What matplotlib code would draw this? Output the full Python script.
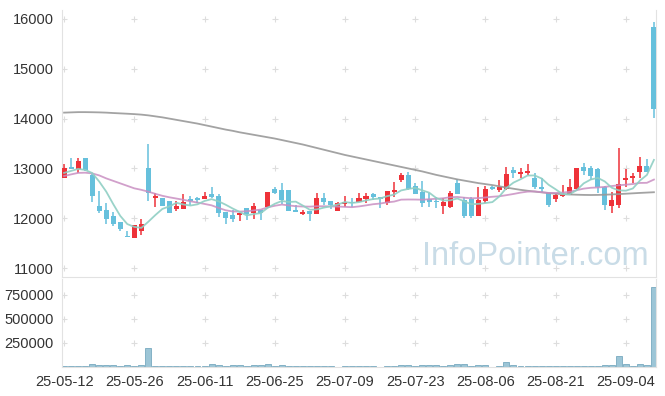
import numpy as np
import matplotlib
matplotlib.use("Agg")
import matplotlib.pyplot as plt

plt.rcParams["font.family"] = ["Liberation Sans", "DejaVu Sans"]

# daily candles, 2025-05-12 .. 2025-09-10 (trading days)
opens = [12810, 13020, 12990, 13200, 12870, 12245, 12160, 12040, 11920, 11650,
         11610, 11750, 13000, 12400, 12400, 12345, 12185, 12180, 12380, 12400,
         12385, 12485, 12445, 12125, 12065, 12065, 12200, 12100, 12165, 12220,
         12586, 12566, 12566, 12165, 12080, 12145, 12080, 12400, 12345, 12150,
         12280, 12330, 12330, 12380, 12486, 12426, 12300, 12526, 12767, 12867,
         12647, 12533, 12380, 12352, 12245, 12232, 12700, 12365, 12380, 12044,
         12352, 12633, 12566, 12580, 12960, 12881, 12901, 12813, 12626, 12500,
         12385, 12450, 12466, 12580, 13036, 13002, 12988, 12633, 12252, 12265,
         12767, 12801, 12935, 13049, 15833]
highs = [13090, 13200, 13200, 13200, 12880, 12550, 12300, 12130, 11920, 11750,
         11870, 11990, 13500, 12500, 12410, 12350, 12350, 12480, 12445, 12420,
         12530, 12620, 12490, 12130, 12165, 12105, 12210, 12300, 12170, 12520,
         12635, 12700, 12570, 12265, 12165, 12150, 12500, 12500, 12350, 12330,
         12450, 12400, 12500, 12500, 12500, 12430, 12550, 12734, 12914, 12934,
         12700, 12754, 12500, 12432, 12400, 12540, 12780, 12432, 12432, 12633,
         12647, 12650, 12767, 13022, 13036, 13002, 13088, 12901, 12801, 12510,
         12514, 12667, 12780, 13010, 13102, 13050, 13000, 12640, 12533, 13416,
         12981, 12900, 13223, 13183, 15930]
lows = [12800, 12990, 12900, 12950, 12330, 12100, 11880, 11850, 11740, 11620,
        11600, 11660, 12350, 12220, 12240, 12100, 12150, 12180, 12265, 12310,
        12385, 12410, 12015, 11885, 11920, 11945, 11965, 11980, 11965, 12210,
        12490, 12285, 12140, 12120, 12070, 11945, 12075, 12265, 12180, 12150,
        12235, 12235, 12320, 12300, 12365, 12200, 12265, 12432, 12720, 12570,
        12480, 12218, 12232, 12198, 12084, 12200, 12480, 12000, 12000, 12044,
        12300, 12570, 12533, 12570, 12800, 12801, 12867, 12580, 12533, 12232,
        12332, 12432, 12460, 12575, 12867, 12767, 12500, 12165, 12111, 12198,
        12620, 12700, 12801, 12930, 14007]
closes = [13000, 12990, 13140, 12960, 12450, 12145, 11980, 11880, 11780, 11630,
          11860, 11880, 12500, 12450, 12245, 12110, 12245, 12330, 12345, 12365,
          12445, 12430, 12110, 12010, 11985, 12100, 12080, 12245, 12100, 12520,
          12500, 12365, 12150, 12130, 12125, 12078, 12400, 12330, 12265, 12310,
          12320, 12310, 12410, 12446, 12432, 12380, 12546, 12566, 12867, 12580,
          12486, 12300, 12332, 12332, 12332, 12500, 12486, 12044, 12044, 12365,
          12586, 12580, 12620, 12888, 12900, 12921, 12954, 12633, 12586, 12265,
          12466, 12466, 12620, 13002, 12948, 12847, 12633, 12265, 12365, 12687,
          12813, 12854, 13056, 12935, 14199]
volumes = [5000, 5000, 5000, 5000, 24000, 13000, 13000, 13000, 5000, 16000,
           5000, 14000, 190000, 5000, 12000, 5000, 12000, 5000, 5000, 5000,
           5000, 33000, 13000, 5000, 13000, 13000, 5000, 13000, 14000, 24000,
           5000, 13000, 5000, 5000, 5000, 12000, 5000, 5000, 5000, 500,
           5000, 5000, 5000, 5000, 5000, 500, 5000, 12000, 22000, 13000,
           5000, 22000, 14000, 14000, 5000, 13000, 33000, 24000, 5000, 13000,
           13000, 500, 5000, 47000, 13000, 5000, 5000, 5000, 5000, 12000,
           5000, 5000, 5000, 12000, 5000, 5000, 5000, 13000, 22000, 108000,
           24000, 5000, 33000, 14000, 830000]

# moving averages as drawn on the chart
ma5 = [12910, 12950, 12990, 12970, 12908, 12737, 12535, 12283, 12047, 11883,
       11826, 11806, 11930, 12064, 12187, 12237, 12310, 12276, 12255, 12279,
       12346, 12383, 12339, 12272, 12196, 12127, 12057, 12084, 12102, 12209,
       12289, 12346, 12327, 12333, 12254, 12170, 12177, 12213, 12240, 12277,
       12325, 12307, 12323, 12359, 12384, 12396, 12443, 12474, 12558, 12588,
       12609, 12560, 12513, 12406, 12356, 12359, 12396, 12339, 12281, 12288,
       12305, 12324, 12439, 12608, 12715, 12782, 12857, 12859, 12799, 12672,
       12581, 12483, 12481, 12564, 12700, 12777, 12810, 12739, 12612, 12559,
       12553, 12597, 12755, 12869, 13171]
ma20 = [12847, 12880, 12910, 12914, 12900, 12860, 12800, 12750, 12700, 12650,
        12600, 12570, 12533, 12490, 12450, 12420, 12395, 12370, 12340, 12314,
        12287, 12259, 12207, 12160, 12136, 12134, 12139, 12157, 12173, 12218,
        12250, 12274, 12257, 12241, 12235, 12233, 12241, 12241, 12237, 12234,
        12228, 12222, 12237, 12258, 12281, 12295, 12318, 12334, 12373, 12376,
        12375, 12372, 12381, 12391, 12401, 12422, 12427, 12412, 12401, 12404,
        12417, 12431, 12441, 12463, 12487, 12514, 12534, 12538, 12523, 12508,
        12507, 12515, 12529, 12563, 12594, 12611, 12618, 12629, 12646, 12662,
        12673, 12687, 12708, 12711, 12776]
ma60 = [14120, 14125, 14130, 14130, 14128, 14125, 14120, 14112, 14105, 14098,
        14090, 14080, 14065, 14045, 14025, 14000, 13975, 13950, 13925, 13900,
        13870, 13840, 13810, 13780, 13755, 13725, 13700, 13675, 13650, 13625,
        13600, 13570, 13540, 13510, 13480, 13445, 13410, 13375, 13340, 13305,
        13270, 13240, 13210, 13180, 13150, 13120, 13090, 13060, 13030, 13000,
        12970, 12940, 12905, 12870, 12840, 12810, 12780, 12755, 12730, 12705,
        12685, 12665, 12640, 12615, 12592, 12570, 12552, 12535, 12520, 12505,
        12492, 12484, 12477, 12472, 12468, 12466, 12468, 12472, 12478, 12485,
        12492, 12500, 12508, 12515, 12522]

tick_idx = [0, 10, 20, 30, 40, 50, 60, 70, 80]
tick_labels = ["25-05-12", "25-05-26", "25-06-11", "25-06-25", "25-07-09",
               "25-07-23", "25-08-06", "25-08-21", "25-09-04"]
price_ticks = [11000, 12000, 13000, 14000, 15000, 16000]
vol_ticks = [250000, 500000, 750000]

UP = "#ee3239"
DOWN = "#66c0dc"
TXT = "#333333"
FRAME = "#e2e2e2"

o = np.array(opens)
h = np.array(highs)
l = np.array(lows)
c = np.array(closes)
x = np.arange(len(c))
colors = np.where(c >= o, UP, DOWN)

fig = plt.figure(figsize=(6.65, 3.96), dpi=100)
ax = fig.add_axes([0.0932, 0.3005, 0.8933, 0.6742])
axv = fig.add_axes([0.0932, 0.074, 0.8933, 0.2215], sharex=ax)

xlim = (-0.3, 84.3)

# watermark
ax.text(0.988, 0.018, "InfoPointer.com", transform=ax.transAxes, ha="right",
        va="bottom", fontsize=23.5, color="#c9dce7", zorder=0)

# grid crosses
gx, gy = np.meshgrid(tick_idx, price_ticks)
ax.scatter(gx.ravel(), gy.ravel(), marker="+", s=18, color="#dddddd",
           linewidths=0.8, zorder=1)
gx, gy = np.meshgrid(tick_idx, vol_ticks)
axv.scatter(gx.ravel(), gy.ravel(), marker="+", s=18, color="#dddddd",
            linewidths=0.8, zorder=1)

# candles
ax.vlines(x, l, h, colors=colors, linewidth=1.1, zorder=2)
body = np.maximum(np.abs(c - o), 12)
ax.bar(x, body, bottom=np.minimum(o, c), width=0.72, color=colors,
       linewidth=0, zorder=3)

# moving averages
ax.plot(x, ma60, color="#999999", lw=1.3, alpha=0.9, zorder=4)
ax.plot(x, ma20, color="#c98fc2", lw=1.3, alpha=0.85, zorder=4)
ax.plot(x, ma5, color="#8fcfc4", lw=1.3, alpha=0.9, zorder=4)

ax.set_xlim(*xlim)
ax.set_ylim(10820, 16180)
ax.set_yticks(price_ticks)
ax.set_yticklabels([str(v) for v in price_ticks])
ax.tick_params(axis="y", length=0, pad=6, labelsize=10.5, colors=TXT)
ax.tick_params(axis="x", length=0, labelbottom=False)
ax.spines["top"].set_visible(False)
for s in ["left", "right", "bottom"]:
    ax.spines[s].set_color(FRAME)

# volume
axv.bar(x, volumes, width=0.85, color="#9cc5d6", edgecolor="#78aac0",
        linewidth=0.6, zorder=2)
axv.set_ylim(0, 912000)
axv.set_yticks(vol_ticks)
axv.set_yticklabels([str(v) for v in vol_ticks])
axv.set_xticks(tick_idx)
axv.set_xticklabels(tick_labels)
axv.tick_params(axis="both", length=0, labelsize=10.5, colors=TXT)
axv.tick_params(axis="y", pad=6)
axv.tick_params(axis="x", pad=6)
axv.spines["top"].set_visible(False)
for s in ["left", "right", "bottom"]:
    axv.spines[s].set_color(FRAME)

fig.savefig("out.png", dpi=100)
